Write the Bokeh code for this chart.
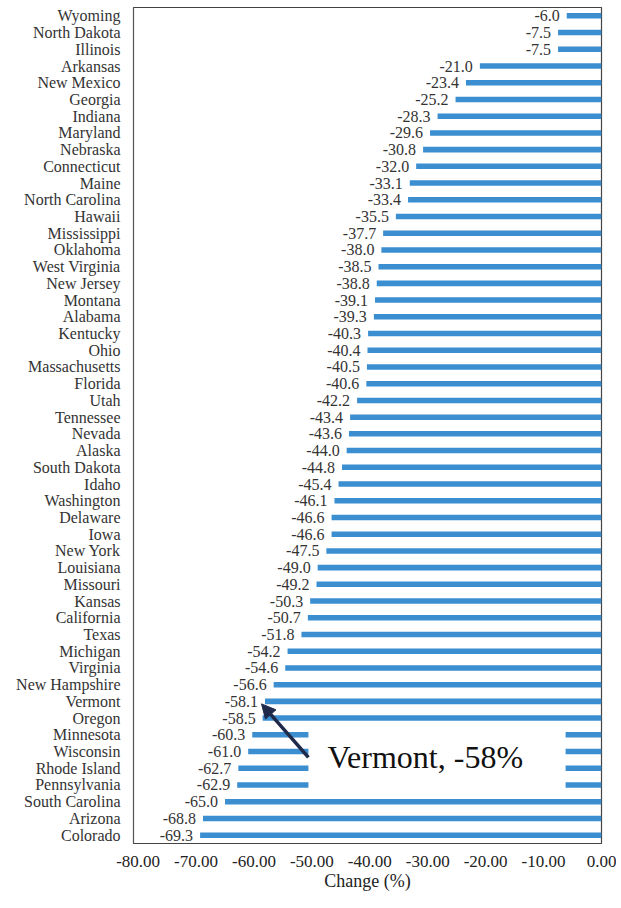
from bokeh.plotting import figure
from bokeh.models import (FactorRange, Range1d, NumeralTickFormatter, Arrow,
                          NormalHead, Label, ColumnDataSource, FixedTicker)
from bokeh.core.properties import value
from bokeh.embed import file_html
from bokeh.resources import INLINE

states = ["Wyoming", "North Dakota", "Illinois", "Arkansas", "New Mexico", "Georgia",
          "Indiana", "Maryland", "Nebraska", "Connecticut", "Maine", "North Carolina",
          "Hawaii", "Mississippi", "Oklahoma", "West Virginia", "New Jersey", "Montana",
          "Alabama", "Kentucky", "Ohio", "Massachusetts", "Florida", "Utah", "Tennessee",
          "Nevada", "Alaska", "South Dakota", "Idaho", "Washington", "Delaware", "Iowa",
          "New York", "Louisiana", "Missouri", "Kansas", "California", "Texas",
          "Michigan", "Virginia", "New Hampshire", "Vermont", "Oregon", "Minnesota",
          "Wisconsin", "Rhode Island", "Pennsylvania", "South Carolina", "Arizona",
          "Colorado"]
change = [-6.0, -7.5, -7.5, -21.0, -23.4, -25.2, -28.3, -29.6, -30.8, -32.0, -33.1,
          -33.4, -35.5, -37.7, -38.0, -38.5, -38.8, -39.1, -39.3, -40.3, -40.4, -40.5,
          -40.6, -42.2, -43.4, -43.6, -44.0, -44.8, -45.4, -46.1, -46.6, -46.6, -47.5,
          -49.0, -49.2, -50.3, -50.7, -51.8, -54.2, -54.6, -56.6, -58.1, -58.5, -60.3,
          -61.0, -62.7, -62.9, -65.0, -68.8, -69.3]
x_ticks = [-80, -70, -60, -50, -40, -30, -20, -10, 0]
x_label = "Change (%)"
callout_text = "Vermont, -58%"

SERIF = "'Liberation Serif', 'DejaVu Serif', serif"
BAR_COLOR = "#3b8ed0"

src = ColumnDataSource(dict(state=states, val=change, zero=[0] * len(change),
                            lbl=[f"{v:.1f}" for v in change]))

p = figure(width=616, height=900,
           y_range=FactorRange(factors=states[::-1]),
           x_range=Range1d(-80.8, 0.0),
           output_backend="svg", toolbar_location=None,
           min_border_left=133, min_border_right=15,
           min_border_top=7, min_border_bottom=57)

p.hbar(y="state", left="val", right="zero", height=0.33, source=src,
       fill_color=BAR_COLOR, line_color=None)

# white callout box that hides part of the bars
p.quad(left=[-50.6], right=[-6.2], bottom=[3.1], top=[6.9],
       fill_color="white", line_color=None)

p.text(x="val", y="state", text="lbl", source=src, text_align="right",
       text_baseline="middle", x_offset=-7, text_font=value(SERIF),
       text_font_size="16px", text_color="#333333")

p.add_layout(Arrow(end=NormalHead(size=14, fill_color="#1f2a4a", line_color="#1f2a4a"),
                   x_start=-50.6, y_start=5.15, x_end=-58.7, y_end=8.35,
                   line_width=3.5, line_color="#1f2a4a"))
p.add_layout(Label(x=-47.3, y=5.15, text=callout_text, text_font=SERIF,
                   text_font_size="32px", text_baseline="middle",
                   text_color="#111111"))

p.xgrid.visible = False
p.ygrid.visible = False
p.outline_line_color = "#444444"
p.outline_line_width = 1.2

xa = p.xaxis[0]
xa.ticker = FixedTicker(ticks=x_ticks)
xa.formatter = NumeralTickFormatter(format="0.00")
xa.major_tick_line_color = None
xa.minor_tick_line_color = None
xa.major_tick_out = 0
xa.major_label_standoff = 12
xa.major_label_text_font = SERIF
xa.major_label_text_font_size = "17px"
xa.major_label_text_color = "#222222"
xa.axis_line_color = "#444444"
xa.axis_label = x_label
xa.axis_label_text_font = SERIF
xa.axis_label_text_font_size = "18px"
xa.axis_label_text_font_style = "normal"
xa.axis_label_text_color = "#222222"
xa.axis_label_standoff = 1

ya = p.yaxis[0]
ya.major_tick_line_color = None
ya.minor_tick_line_color = None
ya.major_tick_out = 0
ya.major_label_standoff = 13
ya.major_label_text_font = SERIF
ya.major_label_text_font_size = "16px"
ya.major_label_text_color = "#333333"
ya.axis_line_color = "#555555"

open("out.html", "w").write(file_html(p, INLINE))
